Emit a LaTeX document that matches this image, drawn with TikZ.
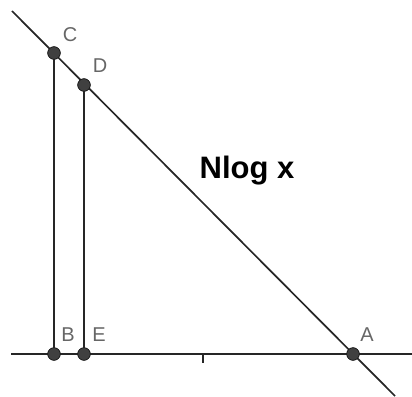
\documentclass[tikz,border=0pt]{standalone}
\usepackage{fontspec}
\setmainfont{Liberation Sans}
\begin{document}
\begin{tikzpicture}[x=1pt,y=-1pt,
  ln/.style={draw=black!85, line width=1.7pt},
  pt/.style={circle, fill=black!75, draw=black!90, line width=0.6pt, inner sep=0pt, minimum size=12.5pt},
  lbl/.style={text=black!60, font=\fontsize{20}{20}\selectfont, inner sep=0pt, anchor=base}]
\useasboundingbox (0,0) rectangle (412,396);
\coordinate (L0) at (12,11);
\coordinate (L1) at (395,396);
\coordinate (X0) at (11,354);
\coordinate (X1) at (412,354);
\coordinate (T0) at (203,354);
\coordinate (T1) at (203,363);
\draw[ln] (L0) -- (L1);
\draw[ln] (X0) -- (X1);
\draw[ln] (T0) -- (T1);
\node[pt] (C) at (54,53) {};
\node[pt] (D) at (84,85) {};
\node[pt] (B) at (54,354) {};
\node[pt] (E) at (84,354) {};
\node[pt] (A) at (353,354) {};
\draw[ln] (C.center) -- (B.center);
\draw[ln] (D.center) -- (E.center);
\foreach \p in {C,D,B,E,A} \node[pt] at (\p) {};
\node[lbl] (lC) at (70,42) {C};
\node[lbl] (lD) at (100,72) {D};
\node[lbl] (lB) at (68,341) {B};
\node[lbl] (lE) at (99,341) {E};
\node[lbl] (lA) at (367,341) {A};
\node[inner sep=0pt, anchor=base, font=\bfseries\fontsize{31}{31}\selectfont] (title) at (247,178) {Nlog x};
\end{tikzpicture}
\end{document}
